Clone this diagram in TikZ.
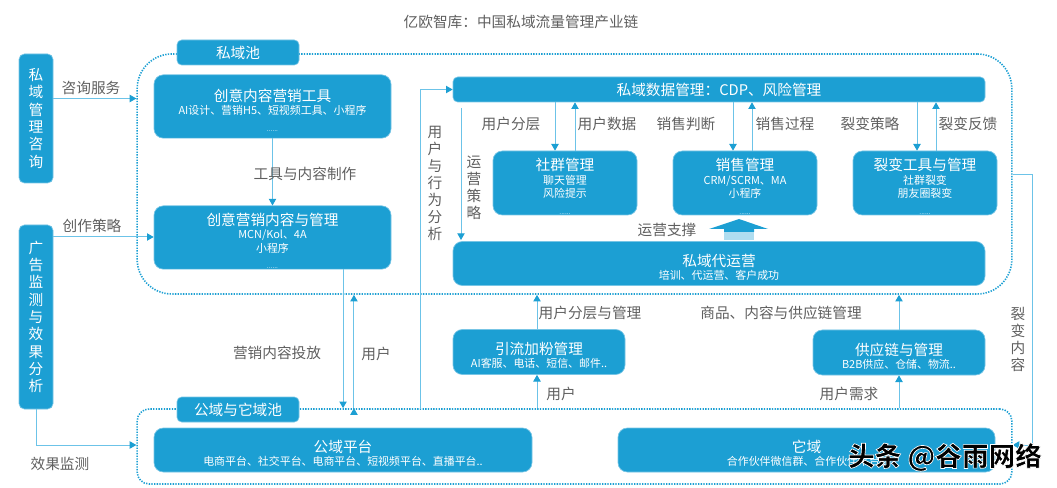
\documentclass[tikz,border=0pt]{standalone}
\usepackage{fontspec}
\setmainfont{Noto Sans CJK SC}
\usetikzlibrary{arrows.meta, positioning}
\definecolor{poolblue}{HTML}{1C9FD3}
\definecolor{linkblue}{HTML}{6CC3E8}
\definecolor{labelgray}{HTML}{5F5F5F}
\newcommand{\boxhead}{\fontsize{11}{10}\selectfont\rule{0pt}{14.5pt}}
\newcommand{\boxsub}{\fontsize{8.2}{10}\selectfont}
\newcommand{\boxdots}{\fontsize{5}{10}\selectfont}
\newcommand{\boxbase}{\fontsize{8.2}{10}\selectfont\setlength{\lineskiplimit}{-20pt}}
\newcommand{\halotext}[1]{\special{pdf:code q 2 Tr 1 1 1 RG 0.5 w}#1\special{pdf:code Q 0 Tr}}

\begin{document}
\begin{tikzpicture}[
    x=0.75pt, y=-0.75pt,
    on grid,
    >={Triangle[length=5pt, width=5.5pt, color=poolblue]},
    poolbox/.style={draw=poolblue!60!white, fill=poolblue, text=white, rounded corners=7pt, align=center, inner sep=0pt, line width=0.5pt, font=\boxbase},
    bigbox/.style={poolbox, minimum width=177.75pt, minimum height=47.5pt},
    midbox/.style={poolbox, minimum width=108pt, minimum height=48pt},
    smallbox/.style={poolbox, minimum width=129pt, minimum height=33.75pt},
    widebox/.style={poolbox, minimum height=33pt},
    sidebox/.style={poolbox, rounded corners=4pt, minimum width=25.5pt, font=\fontsize{11}{13}\selectfont},
    tagbox/.style={poolbox, rounded corners=3.5pt, minimum width=91.5pt, minimum height=18.75pt, font=\fontsize{11}{13}\selectfont},
    pool/.style={draw=poolblue, dash pattern=on 1pt off 1pt, line width=1.2pt, inner sep=0pt},
    link/.style={->, draw=linkblue, line width=0.75pt},
    tag/.style={text=labelgray, inner sep=0pt, font=\fontsize{11}{12.75}\selectfont, align=center}
]
   \useasboundingbox (0,0) rectangle (1057,488);

   % Pools
   \node[pool, rounded corners=26pt, minimum width=656pt, minimum height=180pt] (privpool) at (574.5,174) {};
   \node[pool, rounded corners=9pt, minimum width=656pt, minimum height=56.25pt] (pubpool) at (574.5,446.5) {};
   \node[tagbox] (privtag) at (238,52.5) {私域池};
   \node[tagbox] (pubtag) at (238,409.5) {公域与它域池};

   % Left column
   \node[sidebox, minimum height=96.75pt] (consult) at (36,118.5) {私\\域\\管\\理\\咨\\询};
   \node[sidebox, minimum height=138pt] (adverts) at (36,317) {广\\告\\监\\测\\与\\效\\果\\分\\析};
   \node[bigbox] (tools) at (272.5,106.5) {{\boxhead 创意内容营销工具}\\{\boxsub AI设计、营销H5、短视频工具、小程序}\\[2.5pt]{\boxdots ......}};
   \node[bigbox, below=98.25pt of tools] (content) {{\boxhead 创意营销内容与管理}\\{\boxsub MCN/Kol、4A}\\{\boxsub 小程序}\\[2.5pt]{\boxdots ......}};

   % Private pool, right part
   \node[poolbox, rounded corners=3.5pt, minimum width=399pt, minimum height=18.75pt, font=\fontsize{11}{13}\selectfont] (data) at (719,89.5) {私域数据管理：CDP、风险管理};
   \node[midbox] (social) at (565,183) {{\boxhead 社群管理}\\{\boxsub 聊天管理}\\{\boxsub 风险提示}\\[2.5pt]{\boxdots ......}};
   \node[midbox, right=135pt of social] (sales) {{\boxhead 销售管理}\\{\boxsub CRM/SCRM、MA}\\{\boxsub 小程序}\\[2.5pt]{\boxdots ......}};
   \node[midbox, right=135pt of sales] (fission) {{\boxhead 裂变工具与管理}\\{\boxsub 社群裂变}\\{\boxsub 朋友圈裂变}\\[2.5pt]{\boxdots ......}};
   \node[widebox, minimum width=399pt] (operate) at (719,263.5) {{\boxhead 私域代运营}\\{\boxsub 培训、代运营、客户成功}};

   % Middle row
   \node[smallbox] (traffic) at (539,352) {{\boxhead 引流加粉管理}\\{\boxsub AI客服、电话、短信、邮件..}};
   \node[smallbox] (supply) at (899,352.5) {{\boxhead 供应链与管理}\\{\boxsub B2B供应、仓储、物流..}};

   % Bottom row
   \node[widebox, minimum width=283.5pt] (publicpf) at (343,450) {{\boxhead 公域平台}\\{\boxsub 电商平台、社交平台、电商平台、短视频平台、直播平台..}};
   \node[widebox, minimum width=282.75pt] (otherpf) at (806.5,450) {{\boxhead 它域}\\{\boxsub 合作伙伴微信群、合作伙伴平台..}};

   % Free ends
   \coordinate (strategytop) at (461,108);
   \coordinate (strategyend) at (461,240);
   \coordinate (fissionout) at (1032,175);
   \coordinate (fissionin) at (1032,445);
   \coordinate (behavestart) at (420,409);

   % Transitions
   \path[link]
   ([yshift=15pt]consult.east) edge ([yshift=15pt]consult.east -| privpool.west)
   ([yshift=60pt]adverts.east) edge ([yshift=60pt]adverts.east -| content.west)
   (tools) edge (content)
   (strategytop) edge (strategyend)
   ([xshift=-1.5pt]traffic.north) edge ([xshift=-1.5pt]traffic.north |- privpool.south)
   ([xshift=-1.5pt]traffic.south |- pubpool.north) edge ([xshift=-1.5pt]traffic.south)
   (supply.north) edge (supply.north |- privpool.south)
   (supply.south |- pubpool.north) edge (supply.south)
   ([xshift=-7.5pt]social.north |- data.south) edge ([xshift=-7.5pt]social.north)
   ([xshift=7.5pt]social.north) edge ([xshift=7.5pt]social.north |- data.south)
   ([xshift=-9pt]sales.north |- data.south) edge ([xshift=-9pt]sales.north)
   ([xshift=5.25pt]sales.north) edge ([xshift=5.25pt]sales.north |- data.south)
   ([xshift=-6pt]fission.north |- data.south) edge ([xshift=-6pt]fission.north)
   ([xshift=8.25pt]fission.north) edge ([xshift=8.25pt]fission.north |- data.south)
   ([xshift=52.9pt]content.south) edge ([xshift=52.9pt]content.south |- pubpool.north)
   ([xshift=61.1pt]content.south |- pubpool.north) edge ([xshift=61.1pt]content.south |- privpool.south);

   \draw[link] (adverts.south) |- (pubpool.west |- fissionin);
   \draw[link] (behavestart) |- (data.west);
   \draw[link] (privpool.east |- fissionout) -- (fissionout) -- (fissionin) -- (pubpool.east |- fissionin);

   % Support arrow
   \fill[poolblue!35!white] (724,229) rectangle (754,240);
   \fill[poolblue] (709,229) -- (739,219) -- (768,229) -- (754,229) -- (754,232) -- (724,232) -- (724,229) -- cycle;

   % Labels
   \node[tag] (lbconsult) at (91,88) {咨询服务};
   \node[tag] (lbcreate) at (92,226) {创作策略};
   \node[tag] (lbmonitor) at (60,464) {效果监测};
   \node[tag] (lbtools) at (305,174) {工具与内容制作};
   \node[tag] (lbdeliver) at (277,353) {营销内容投放};
   \node[tag] (lbuser) at (376,354) {用户};
   \node[tag] (lbbehave) at (435,183) {用\\户\\与\\行\\为\\分\\析};
   \node[tag] (lbstrategy) at (474,188) {运\\营\\策\\略};
   \node[tag] (lblayer) at (511,124) {用户分层};
   \node[tag] (lbdata) at (607,124) {用户数据};
   \node[tag] (lbjudge) at (686,124) {销售判断};
   \node[tag] (lbprocess) at (785,124) {销售过程};
   \node[tag] (lbfstrategy) at (870,124) {裂变策略};
   \node[tag] (lbfeedback) at (968,124) {裂变反馈};
   \node[tag] (lbsupport) at (667,230) {运营支撑};
   \node[tag] (lbmanage) at (590,313) {用户分层与管理};
   \node[tag] (lbgoods) at (781,313) {商品、内容与供应链管理};
   \node[tag] (lbuser2) at (561,394) {用户};
   \node[tag] (lbneed) at (849,394) {用户需求};
   \node[tag] (lbfcontent) at (1018,339) {裂\\变\\内\\容};
   \node[tag] (title) at (521,22) {亿欧智库：中国私域流量管理产业链};

   % Watermark
   \node[inner sep=0pt, font=\fontsize{20}{22}\selectfont\bfseries] (mark) at (945,457) {\halotext{头条 @谷雨网络}};
\end{tikzpicture}
\end{document}
